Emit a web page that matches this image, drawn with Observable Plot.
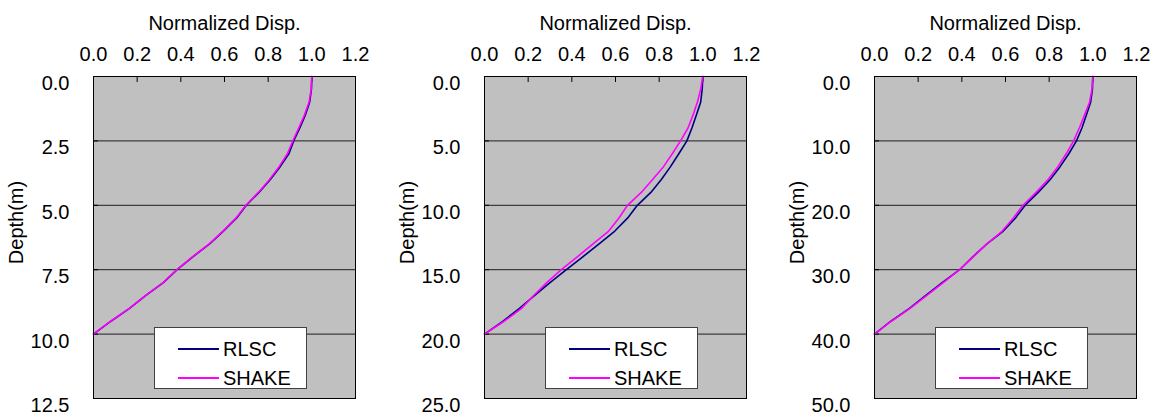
<!DOCTYPE html>
<html>
<head>
<meta charset="utf-8">
<script src="https://cdn.jsdelivr.net/npm/d3@7"></script>
<script src="https://cdn.jsdelivr.net/npm/@observablehq/plot@0.6"></script>
<style>
  html, body { margin: 0; padding: 0; background: #fff; overflow: hidden; }
  #wrap { position: relative; width: 1154px; height: 420px; font-family: "Liberation Sans", Arial, sans-serif; }
  .panel { position: absolute; top: 0; }
  .legend { position: absolute; top: 327px; width: 151px; height: 60px; background: #fff; border: 1px solid #404040; font-size: 20px; }
  .legend .row { position: absolute; left: 0; height: 24px; }
  .legend .sw { position: absolute; left: 23px; width: 41px; height: 2px; }
  .legend .lb { position: absolute; left: 68px; line-height: 24px; white-space: nowrap; }
</style>
</head>
<body>
<div id="wrap"></div>
<script>
const FONT = '"Liberation Sans", Arial, sans-serif';
const xTicks = [0, 0.2, 0.4, 0.6, 0.8, 1.0, 1.2];
const seriesNames = ["RLSC", "SHAKE"];
const seriesColors = ["#000080", "#ff00ff"];
const xTitle = "Normalized Disp.";
const yTitle = "Depth(m)";

// Panel 1 (10 m)
const depth1 = [0, 0.5, 1, 1.5, 2, 2.5, 3, 3.5, 4, 4.5, 5, 5.5, 6, 6.5, 7, 7.5, 8, 8.5, 9, 9.5, 10];
const rlsc1  = [1.000, 0.998, 0.990, 0.970, 0.945, 0.917, 0.895, 0.855, 0.810, 0.758, 0.700, 0.655, 0.595, 0.532, 0.455, 0.383, 0.320, 0.240, 0.165, 0.080, 0.000];
const shake1 = [1.000, 0.997, 0.987, 0.966, 0.940, 0.913, 0.888, 0.850, 0.806, 0.755, 0.698, 0.652, 0.593, 0.530, 0.453, 0.382, 0.319, 0.239, 0.164, 0.079, 0.000];
const yTicks1 = [0, 2.5, 5, 7.5, 10, 12.5];

// Panel 2 (20 m)
const depth2 = [0, 1, 2, 3, 4, 5, 6, 7, 8, 9, 10, 11, 12, 13, 14, 15, 16, 17, 18, 19, 20];
const rlsc2  = [1.000, 0.997, 0.990, 0.970, 0.950, 0.927, 0.890, 0.852, 0.810, 0.762, 0.700, 0.655, 0.597, 0.525, 0.450, 0.375, 0.300, 0.230, 0.160, 0.085, 0.000];
const shake2 = [1.000, 0.990, 0.975, 0.955, 0.932, 0.898, 0.860, 0.820, 0.770, 0.718, 0.655, 0.615, 0.569, 0.497, 0.425, 0.352, 0.285, 0.225, 0.170, 0.090, 0.000];
const yTicks2 = [0, 5, 10, 15, 20, 25];

// Panel 3 (40 m)
const depth3 = [0, 2, 4, 6, 8, 10, 12, 14, 16, 18, 20, 22, 24, 26, 28, 30, 32, 34, 36, 38, 40];
const rlsc3  = [1.000, 0.998, 0.990, 0.970, 0.950, 0.925, 0.890, 0.850, 0.805, 0.750, 0.690, 0.645, 0.590, 0.515, 0.450, 0.390, 0.310, 0.235, 0.160, 0.075, 0.000];
const shake3 = [1.000, 0.996, 0.985, 0.962, 0.938, 0.912, 0.878, 0.840, 0.795, 0.740, 0.680, 0.635, 0.585, 0.515, 0.452, 0.390, 0.315, 0.240, 0.163, 0.077, 0.000];
const yTicks3 = [0, 10, 20, 30, 40, 50];

const panels = [
  {left: 0,   depth: depth1, rlsc: rlsc1, shake: shake1, yTicks: yTicks1},
  {left: 391, depth: depth2, rlsc: rlsc2, shake: shake2, yTicks: yTicks2},
  {left: 781, depth: depth3, rlsc: rlsc3, shake: shake3, yTicks: yTicks3}
];

const ML = 93, PW = 262, MR = 12, MT = 76, MB = 22;
const wrap = document.getElementById("wrap");

for (const p of panels) {
  const rows = p.depth.map((d, i) => ({depth: d, rlsc: p.rlsc[i], shake: p.shake[i]}));
  const yMax = p.yTicks[p.yTicks.length - 1];
  const chart = Plot.plot({
    width: ML + PW + MR,
    height: 420,
    marginLeft: ML, marginRight: MR, marginTop: MT, marginBottom: MB,
    style: {fontFamily: FONT, fontSize: "20px", background: "transparent", color: "#000", overflow: "visible"},
    x: {domain: [0, 1.2]},
    y: {domain: [0, yMax], reverse: true},
    marks: [
      Plot.frame({fill: "#c0c0c0", stroke: null}),
      Plot.gridY(p.yTicks.slice(1, -1), {stroke: "#000", strokeOpacity: 0.85, strokeWidth: 1}),
      Plot.axisX({anchor: "top", ticks: xTicks, tickSize: -5, tickFormat: () => "", label: null, stroke: "#000"}),
      Plot.axisX({anchor: "top", ticks: xTicks, tickSize: 0, tickPadding: 16, tickFormat: d => d.toFixed(1),
                  fontSize: 20, label: xTitle, labelArrow: false, labelAnchor: "center", labelOffset: 61}),
      Plot.axisY({anchor: "left", ticks: p.yTicks, tickSize: -5, tickFormat: () => "", label: null, stroke: "#000"}),
      Plot.axisY({anchor: "left", ticks: p.yTicks, tickSize: 0, tickPadding: 24, tickFormat: d => d.toFixed(1),
                  fontSize: 20, dy: 7, label: null}),
      Plot.text([yTitle], {frameAnchor: "left", rotate: -90, lineAnchor: "top", textAnchor: "middle",
                           dx: -85, dy: -15, fontSize: 20, fill: "#000"}),
      Plot.line(rows, {x: "rlsc", y: "depth", stroke: seriesColors[0], strokeWidth: 1.6}),
      Plot.line(rows, {x: "shake", y: "depth", stroke: seriesColors[1], strokeWidth: 1.6}),
      Plot.frame({stroke: "#000", strokeWidth: 1})
    ]
  });
  chart.classList.add("panel");
  chart.style.left = p.left + "px";
  wrap.appendChild(chart);

  const lg = document.createElement("div");
  lg.className = "legend";
  lg.style.left = (p.left + ML + 61) + "px";
  seriesNames.forEach((name, i) => {
    const row = document.createElement("div");
    row.className = "row";
    row.style.top = (9 + i * 29) + "px";
    row.style.width = "150px";
    const sw = document.createElement("div");
    sw.className = "sw";
    sw.style.top = "11px";
    sw.style.background = seriesColors[i];
    const lb = document.createElement("div");
    lb.className = "lb";
    lb.textContent = name;
    row.appendChild(sw);
    row.appendChild(lb);
    lg.appendChild(row);
  });
  wrap.appendChild(lg);
}
</script>
</body>
</html>
